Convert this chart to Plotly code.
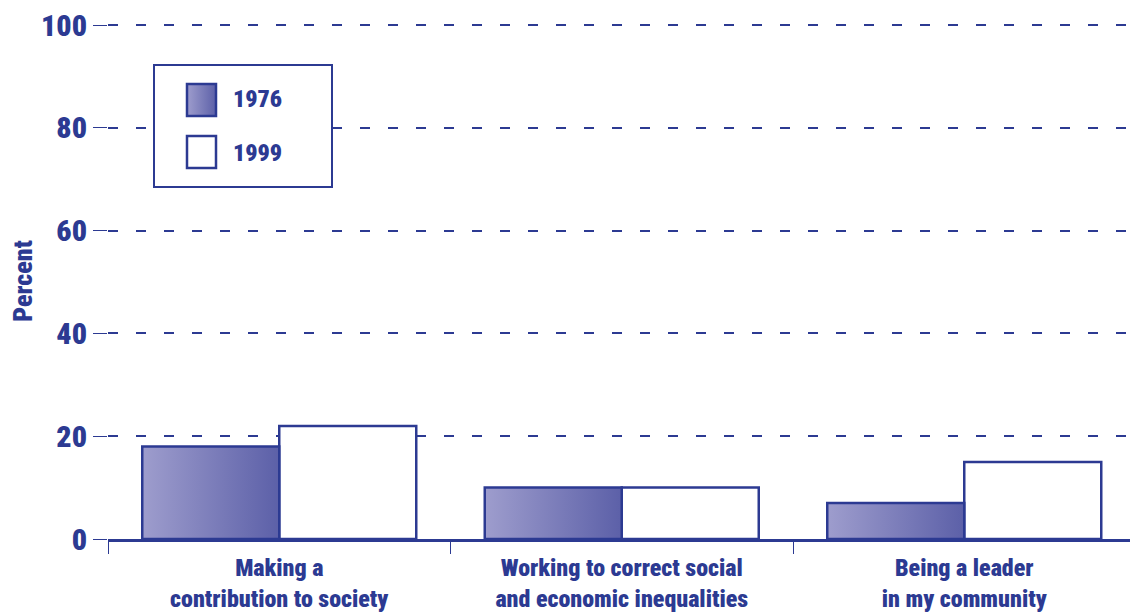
import base64
import plotly.graph_objects as go

# Survey data: share of respondents (percent)
categories = [
    "Making a<br>contribution to society",
    "Working to correct social<br>and economic inequalities",
    "Being a leader<br>in my community",
]
values_1976 = [18, 10, 7]
values_1999 = [22, 10, 15]
series_names = ["1976", "1999"]
y_ticks = [0, 20, 40, 60, 80, 100]

NAVY = "#2c3a92"
GRAD_LEFT = "#9e9dcd"
GRAD_RIGHT = "#5c60a8"
FONT = "Roboto Condensed, Roboto, sans-serif"
WEIGHT = 900

W, H = 1130, 612
M_L, M_R, M_T, M_B = 108, 0, 23, 73
PLOT_W = W - M_L - M_R
PLOT_H = H - M_T - M_B
BAR_W = 0.4
# one category occupies 342.5 px; the right edge is cut by the page
X_RANGE = [-0.5, -0.5 + PLOT_W / 342.5]
Y_RANGE = [0, 100.4]

fig = go.Figure()

# 1976 bars: gradient-filled rectangles, left half of each group
for i, v in enumerate(values_1976):
    x0, x1 = i - BAR_W, i
    fig.add_trace(go.Scatter(
        x=[x0, x1, x1, x0, x0], y=[0, 0, v, v, 0],
        mode="lines", fill="toself",
        fillgradient=dict(type="horizontal",
                          colorscale=[[0, GRAD_LEFT], [1, GRAD_RIGHT]]),
        line=dict(color=NAVY, width=2.5),
        name=series_names[0], showlegend=False, hoverinfo="skip",
    ))

# 1999 bars: white with navy outline, right half of each group
fig.add_trace(go.Bar(
    x=list(range(len(categories))), y=values_1999,
    width=BAR_W, offset=0,
    marker=dict(color="white", line=dict(color=NAVY, width=2.5)),
    name=series_names[1], showlegend=False,
))

fig.update_layout(
    width=W, height=H,
    margin=dict(l=M_L, r=M_R, t=M_T, b=M_B, autoexpand=False),
    paper_bgcolor="white", plot_bgcolor="white",
    font=dict(family=FONT, color=NAVY),
    barmode="overlay",
    showlegend=False,
)

fig.update_xaxes(
    range=X_RANGE, automargin=False,
    tickmode="array", tickvals=list(range(len(categories))), ticktext=categories,
    ticks="outside", ticklen=0, tickcolor=NAVY,
    ticklabelstandoff=5,
    tickfont=dict(size=24, family=FONT, weight=WEIGHT, color=NAVY),
    minor=dict(tickmode="array", tickvals=[-0.5, 0.5, 1.5],
               ticks="outside", ticklen=12, tickwidth=1, tickcolor=NAVY,
               showgrid=False),
    showline=True, linecolor=NAVY, linewidth=2.5,
    showgrid=False, zeroline=False, fixedrange=True,
)

fig.update_yaxes(
    range=Y_RANGE, automargin=False,
    tickmode="array", tickvals=y_ticks, ticktext=[str(t) for t in y_ticks],
    ticks="outside", ticklen=14, tickwidth=1, tickcolor=NAVY,
    tickfont=dict(size=30, family=FONT, weight=WEIGHT, color=NAVY),
    showgrid=True, gridcolor=NAVY, gridwidth=2, griddash="10px,18px",
    showline=False, zeroline=False,
    title=dict(text="Percent", standoff=0,
               font=dict(size=26, family=FONT, weight=WEIGHT, color=NAVY)),
)


def px_x(px):
    return (px - M_L) / PLOT_W


def px_y(py):
    return (H - M_B - py) / PLOT_H


# Legend panel: framed box with a gradient swatch and a white swatch
BOX_X, BOX_Y, BOX_W, BOX_H = 153, 64, 180, 124
svg = (
    f'<svg xmlns="http://www.w3.org/2000/svg" width="{BOX_W}" height="{BOX_H}" '
    f'viewBox="0 0 {BOX_W} {BOX_H}">'
    '<defs><linearGradient id="g" x1="0" x2="1" y1="0" y2="0">'
    f'<stop offset="0" stop-color="{GRAD_LEFT}"/>'
    f'<stop offset="1" stop-color="{GRAD_RIGHT}"/>'
    '</linearGradient></defs>'
    f'<rect x="1" y="1" width="{BOX_W - 2}" height="{BOX_H - 2}" fill="white" '
    f'stroke="{NAVY}" stroke-width="2"/>'
    f'<rect x="34" y="20" width="29" height="32" fill="url(#g)" '
    f'stroke="{NAVY}" stroke-width="2.5"/>'
    f'<rect x="34" y="72" width="29" height="32" fill="white" '
    f'stroke="{NAVY}" stroke-width="2.5"/>'
    '</svg>'
)
svg_uri = "data:image/svg+xml;base64," + base64.b64encode(svg.encode()).decode()
fig.add_layout_image(dict(
    source=svg_uri, xref="paper", yref="paper",
    x=px_x(BOX_X), y=px_y(BOX_Y),
    sizex=px_x(BOX_X + BOX_W) - px_x(BOX_X),
    sizey=px_y(BOX_Y) - px_y(BOX_Y + BOX_H),
    sizing="stretch", xanchor="left", yanchor="top", layer="above",
))

for name, cy in zip(series_names, [99, 153]):
    fig.add_annotation(
        text=name, xref="paper", yref="paper",
        x=px_x(231), y=px_y(cy), xanchor="left", yanchor="middle",
        showarrow=False,
        font=dict(size=24, family=FONT, weight=WEIGHT, color=NAVY),
    )

fig.write_html("out.html")
